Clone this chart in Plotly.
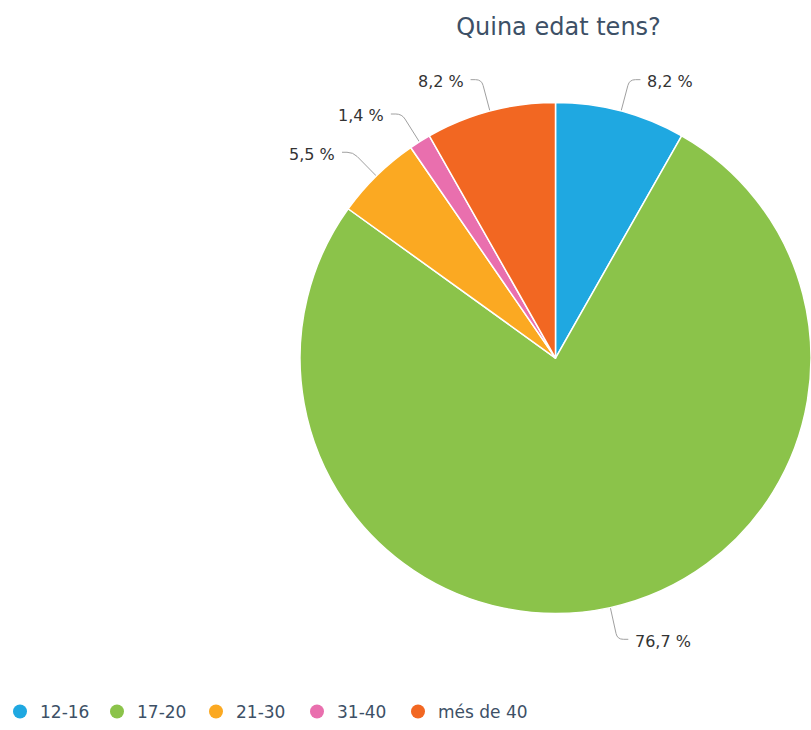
import math
import plotly.graph_objects as go

# ---- data ----
categories = ["12-16", "17-20", "21-30", "31-40", "més de 40"]
counts = [6, 56, 4, 1, 6]
colors = ["#1FA8E1", "#8BC34A", "#FBA922", "#E96FAE", "#F26722"]
title_text = "Quina edat tens?"

# ---- layout geometry (pixels) ----
W, H = 811, 730
cx, cy, r = 555.5, 360.0, 255.5
FONT = "DejaVu Sans"
legend_marker_px = [18, 117, 216, 317, 418]

fig = go.Figure()
fig.add_trace(go.Pie(
    labels=categories, values=counts, sort=False, direction="clockwise", rotation=0,
    marker=dict(colors=colors, line=dict(color="white", width=1.5)),
    textinfo="none", hoverinfo="label+percent", showlegend=False,
    domain=dict(x=[(cx - r) / W, 1.0],
                y=[1 - (cy + r + 2) / H, 1 - (cy - r - 2) / H]),
))

# legend entries with circle symbols, each in its own legend box
legend_layout = {}
for i, (cat, col) in enumerate(zip(categories, colors)):
    lname = "legend" if i == 0 else f"legend{i + 1}"
    fig.add_trace(go.Scatter(x=[None], y=[None], mode="markers", name=cat,
                             marker=dict(symbol="circle", size=14, color=col),
                             showlegend=True, hoverinfo="skip", legend=lname))
    legend_layout[lname] = dict(
        orientation="h", x=max(0, legend_marker_px[i] - 20) / W, xanchor="left",
        y=1 - 716 / H, yanchor="middle", bgcolor="rgba(0,0,0,0)",
        font=dict(family=FONT, size=17, color="#3D5066"), itemwidth=30)

# leader lines and labels, derived from data
total = sum(counts)
cum = 0
def px(x, y):
    return x / W, 1 - y / H
for v in counts:
    mid = (cum + v / 2) / total * 2 * math.pi
    cum += v
    s, c = math.sin(mid), math.cos(mid)
    side = 1 if s >= 0 else -1
    p0 = (cx + (r - 4) * s, cy - (r - 4) * c)
    ext = 34
    p1 = (cx + (r + ext) * s, cy - (r + ext) * c)
    pa = (cx + (r + ext - 6) * s, cy - (r + ext - 6) * c)
    pb = (p1[0] + side * 6, p1[1])
    p2 = (p1[0] + side * 11, p1[1])
    pts = [px(*p) for p in (p0, pa, p1, pb, p2)]
    path = "M {0[0]},{0[1]} L {1[0]},{1[1]} Q {2[0]},{2[1]} {3[0]},{3[1]} L {4[0]},{4[1]}".format(*pts)
    fig.add_shape(type="path", path=path, xref="paper", yref="paper", layer="below",
                  line=dict(color="#A0A0A0", width=1))
    pct = f"{v / total * 100:.1f}".replace(".", ",") + " %"
    lx, ly = px(p2[0] + side * 5, p2[1] + 2)
    fig.add_annotation(x=lx, y=ly, xref="paper", yref="paper", text=pct, showarrow=False,
                       xanchor="left" if side > 0 else "right", yanchor="middle",
                       font=dict(family=FONT, size=16, color="#333333"))

fig.update_layout(
    width=W, height=H, margin=dict(l=0, r=0, t=0, b=0),
    paper_bgcolor="white", plot_bgcolor="white",
    font=dict(family=FONT),
    title=dict(text=title_text, x=(cx + 3) / W, xanchor="center", xref="paper",
               y=1 - 27 / H, yref="container", yanchor="middle",
               font=dict(family=FONT, size=24, color="#3D5066")),
    xaxis=dict(visible=False), yaxis=dict(visible=False),
    **legend_layout,
)

fig.write_html("out.html", config={"displayModeBar": False},
               post_script="document.body.style.margin='0px';"
                           "document.documentElement.style.overflow='hidden';"
                           "document.body.style.overflow='hidden';")
